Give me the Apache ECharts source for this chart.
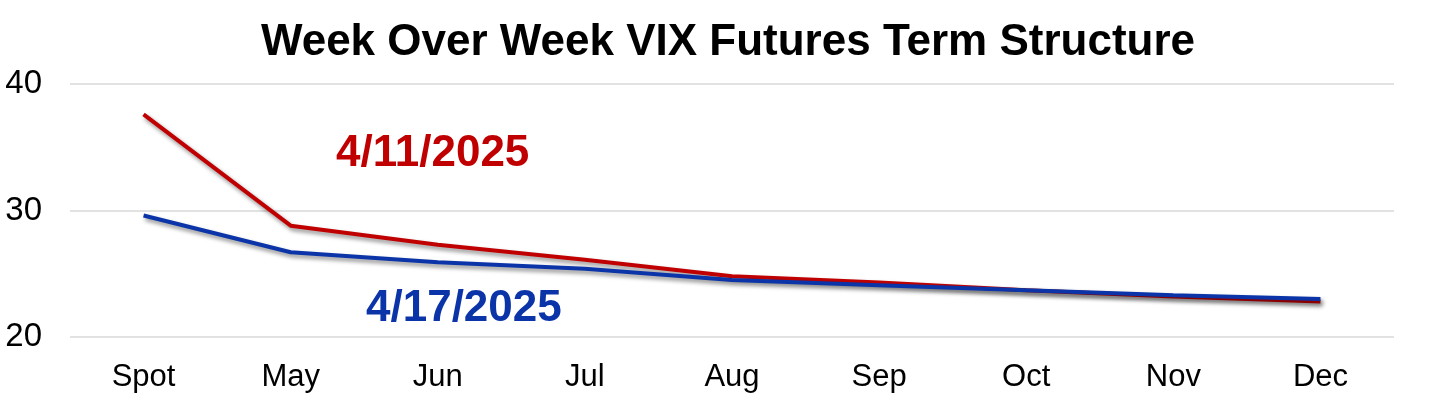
<!DOCTYPE html>
<html>
<head>
<meta charset="utf-8">
<script src="https://cdn.jsdelivr.net/npm/echarts@6/dist/echarts.min.js"></script>
<style>
  html, body { margin: 0; padding: 0; background: #fff; }
  #chart { width: 1456px; height: 397px; }
</style>
</head>
<body>
<div id="chart"></div>
<script>
var months = ['Spot', 'May', 'Jun', 'Jul', 'Aug', 'Sep', 'Oct', 'Nov', 'Dec'];
var apr11 = [37.6, 28.8, 27.3, 26.1, 24.8, 24.3, 23.7, 23.2, 22.8];
var apr17 = [29.6, 26.7, 25.9, 25.4, 24.5, 24.1, 23.7, 23.3, 23.0];

var RED = '#c00000';
var BLUE = '#0a34a8';
var FONT = '"Liberation Sans", Arial, sans-serif';

var chartDom = document.getElementById('chart');
var myChart = echarts.init(chartDom);

function lineSeries(name, data, color){
    return {
        name: name,
        type: 'line',
        data: data,
        symbol: 'none',
        animation: false,
        lineStyle: {
            color: color,
            width: 4,
            shadowColor: 'rgba(0,0,0,0.45)',
            shadowBlur: 4,
            shadowOffsetX: 2,
            shadowOffsetY: 3
        }
    };
}

var option = {
    backgroundColor: '#fff',
    title: {
        text: 'Week Over Week VIX Futures Term Structure',
        left: 'center',
        top: 16,
        textStyle: {
            fontFamily: FONT,
            fontWeight: 'bold',
            fontSize: 44,
            color: '#000'
        }
    },
    grid: {
        left: 70,
        right: 62,
        top: 84,
        bottom: 60
    },
    xAxis: {
        type: 'category',
        data: months,
        boundaryGap: true,
        axisLine: { show: false },
        axisTick: { show: false },
        axisLabel: {
            fontFamily: FONT,
            fontSize: 31,
            color: '#000',
            margin: 25
        }
    },
    yAxis: {
        type: 'value',
        min: 20,
        max: 40,
        interval: 10,
        axisLine: { show: false },
        axisTick: { show: false },
        splitLine: { lineStyle: { color: '#d9d9d9', width: 1.5 } },
        axisLabel: {
            fontFamily: FONT,
            fontSize: 33,
            color: '#000',
            margin: 28
        }
    },
    graphic: [
        {
            type: 'text',
            left: 336,
            top: 132,
            style: {
                text: '4/11/2025',
                fill: RED,
                font: 'bold 44px ' + FONT
            }
        },
        {
            type: 'text',
            left: 366,
            top: 287,
            style: {
                text: '4/17/2025',
                fill: BLUE,
                font: 'bold 44px ' + FONT
            }
        }
    ],
    series: [
        lineSeries('4/11/2025', apr11, RED),
        lineSeries('4/17/2025', apr17, BLUE)
    ]
};

myChart.setOption(option);
</script>
</body>
</html>
